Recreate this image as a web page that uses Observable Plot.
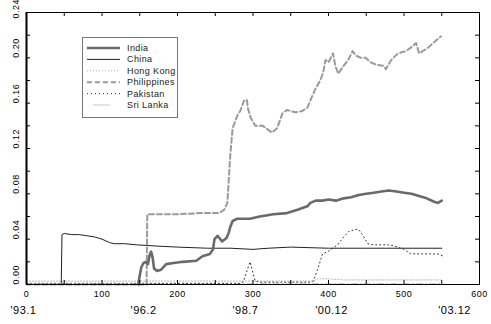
<!DOCTYPE html>
<html><head><meta charset="utf-8">
<script src="https://cdn.jsdelivr.net/npm/d3@7"></script>
<script src="https://cdn.jsdelivr.net/npm/@observablehq/plot@0.6"></script>
<style>body{margin:0;background:#fff}#chart{position:relative;width:491px;height:324px}</style>
</head><body><div id="chart"></div>
<script>
// x: week index, y: weight
const xTicks = [0, 100, 200, 300, 400, 500, 600];
const xMinor = [0, 50, 100, 150, 200, 250, 300, 350, 400, 450, 500, 550, 600];
const yTicks = [0, 0.04, 0.08, 0.12, 0.16, 0.20];
const yTopTick = [0.24];
const yMinor = [0, 0.02, 0.04, 0.06, 0.08, 0.10, 0.12, 0.14, 0.16, 0.18, 0.20, 0.22, 0.24];
const dateLabels = ["'93.1", "'96.2", "'98.7", "'00.12", "'03.12"];
const datePos = [-4, 155, 290, 404, 567];
const seriesNames = ["India", "China", "Hong Kong", "Philippines", "Pakistan", "Sri Lanka"];

const india = [[148,0],[150,0.008],[152,0.015],[155,0.019],[158,0.020],[161,0.018],[163,0.026],[165,0.029],[167,0.024],[169,0.014],[173,0.012],[178,0.013],[185,0.018],[195,0.019],[207,0.020],[225,0.021],[233,0.025],[243,0.027],[247,0.031],[249,0.040],[253,0.043],[259,0.038],[265,0.041],[268,0.046],[270,0.051],[273,0.056],[279,0.058],[283,0.058],[296,0.058],[309,0.060],[327,0.062],[345,0.063],[359,0.066],[372,0.069],[376,0.072],[383,0.074],[392,0.074],[400,0.075],[410,0.074],[420,0.076],[430,0.077],[440,0.079],[450,0.080],[460,0.081],[470,0.082],[480,0.083],[490,0.082],[500,0.081],[510,0.080],[520,0.078],[530,0.076],[540,0.073],[545,0.072],[550,0.074]];
const china = [[0,0],[46,0],[47,0.044],[50,0.045],[60,0.044],[70,0.044],[80,0.043],[90,0.042],[100,0.040],[110,0.037],[116,0.036],[130,0.036],[146,0.035],[170,0.034],[200,0.033],[240,0.032],[270,0.032],[300,0.031],[320,0.032],[350,0.033],[400,0.032],[450,0.032],[500,0.032],[550,0.032]];
const hongKong = [[0,0.003],[100,0.003],[200,0.003],[300,0.003],[380,0.003],[385,0.005],[400,0.005],[420,0.004],[500,0.004],[550,0.004]];
const philippines = [[0,0],[159,0],[160,0.062],[170,0.062],[200,0.062],[230,0.063],[255,0.063],[262,0.066],[266,0.072],[270,0.115],[273,0.138],[277,0.145],[280,0.150],[283,0.153],[288,0.162],[292,0.163],[293,0.156],[297,0.147],[303,0.140],[313,0.140],[319,0.137],[325,0.134],[332,0.138],[339,0.151],[345,0.154],[356,0.152],[365,0.153],[372,0.156],[377,0.164],[383,0.173],[389,0.180],[393,0.187],[396,0.198],[400,0.196],[406,0.204],[409,0.193],[413,0.186],[420,0.193],[426,0.198],[432,0.206],[436,0.202],[443,0.200],[449,0.200],[456,0.196],[463,0.194],[473,0.193],[476,0.190],[483,0.198],[492,0.204],[503,0.206],[509,0.209],[516,0.213],[520,0.204],[525,0.206],[532,0.209],[540,0.214],[549,0.219]];
const pakistan = [[0,0.001],[285,0.001],[288,0.004],[292,0.012],[296,0.020],[300,0.010],[303,0.003],[310,0.002],[375,0.002],[380,0.003],[386,0.014],[392,0.027],[399,0.029],[412,0.035],[419,0.041],[427,0.047],[439,0.049],[445,0.044],[452,0.036],[460,0.035],[479,0.035],[487,0.034],[500,0.031],[509,0.027],[527,0.027],[545,0.027],[552,0.025]];
const sriLanka = [[0,0.0008],[200,0.0008],[400,0.0008],[550,0.0008]];

const W = 491, H = 324, mL = 26, mR = 12, mT = 12, mB = 40;
const pw = W - mL - mR, ph = H - mT - mB;
const styles = {
  "India": {stroke: "#6a6a6a", strokeWidth: 2.6},
  "China": {stroke: "#222", strokeWidth: 1},
  "Hong Kong": {stroke: "#b0b0b0", strokeWidth: 1, strokeDasharray: "1,2"},
  "Philippines": {stroke: "#9a9a9a", strokeWidth: 2, strokeDasharray: "5,3"},
  "Pakistan": {stroke: "#333", strokeWidth: 1, strokeDasharray: "1,3"},
  "Sri Lanka": {stroke: "#c8c8c8", strokeWidth: 1, strokeDasharray: "6,3,1,3"}
};
const dataBy = {"India": india, "China": china, "Hong Kong": hongKong, "Philippines": philippines, "Pakistan": pakistan, "Sri Lanka": sriLanka};
const drawOrder = ["Sri Lanka", "Hong Kong", "Pakistan", "China", "Philippines", "India"];
const ln = (name) => Plot.line(dataBy[name], {x: d => d[0], y: d => d[1], strokeLinejoin: "round", ...styles[name]});
const yLab = {text: d => d.toFixed(2), frameAnchor: "left", dx: -10, rotate: -90, fontSize: 9, fill: "#000"};

const chart = Plot.plot({
  width: W, height: H, marginLeft: mL, marginRight: mR, marginTop: mT, marginBottom: mB,
  style: {fontFamily: "'Liberation Sans', Arial, sans-serif", background: "white", color: "#000"},
  x: {domain: [0, 600]},
  y: {domain: [0, 0.24], axis: null},
  marks: [
    Plot.axisX({ticks: xTicks, tickSize: 0, tickPadding: 6, fontSize: 9, label: null, tickFormat: d => String(d)}),
    Plot.text(dateLabels, {x: (d, i) => datePos[i], text: d => d, frameAnchor: "bottom", dy: 29, fontSize: 11, fill: "#000"}),
    Plot.text(yTicks, {y: d => d, ...yLab}),
    Plot.text(yTopTick, {y: d => d, ...yLab, dy: 6}),
    ...drawOrder.map(ln),
    Plot.tickY(yMinor, {y: d => d, insetRight: pw - 4, stroke: "#000"}),
    Plot.tickY(yMinor, {y: d => d, insetLeft: pw - 4, stroke: "#000"}),
    Plot.tickX(xMinor, {x: d => d, insetBottom: ph - 4, stroke: "#000"}),
    Plot.tickX(xMinor, {x: d => d, insetTop: ph - 4, stroke: "#000"}),
    Plot.frame({stroke: "#000"}),
    Plot.ruleX([0], {stroke: "#000", strokeWidth: 2})
  ]
});
document.getElementById("chart").appendChild(chart);

// legend box
const svg = d3.select(chart);
svg.selectAll("text").style("letter-spacing", "0.5px");
const g = svg.append("g").attr("text-anchor", "start");
g.append("rect").attr("x", 82.5).attr("y", 37.5).attr("width", 95).attr("height", 80)
  .attr("fill", "white").attr("stroke", "#777");
seriesNames.forEach((name, i) => {
  const y = 48 + i * 11.4;
  const s = styles[name];
  const short = name === "Sri Lanka";
  g.append("line").attr("x1", short ? 93 : 87).attr("x2", short ? 110 : 120)
    .attr("y1", y).attr("y2", y)
    .attr("stroke", s.stroke).attr("stroke-width", s.strokeWidth)
    .attr("stroke-dasharray", short ? null : (s.strokeDasharray || null));
  g.append("text").attr("x", 127).attr("y", y + 3).text(name)
    .attr("text-anchor", "start")
    .attr("font-size", 9).attr("fill", "#222").style("letter-spacing", "0.4px")
    .attr("font-family", "'Liberation Sans', Arial, sans-serif");
});
</script></body></html>
